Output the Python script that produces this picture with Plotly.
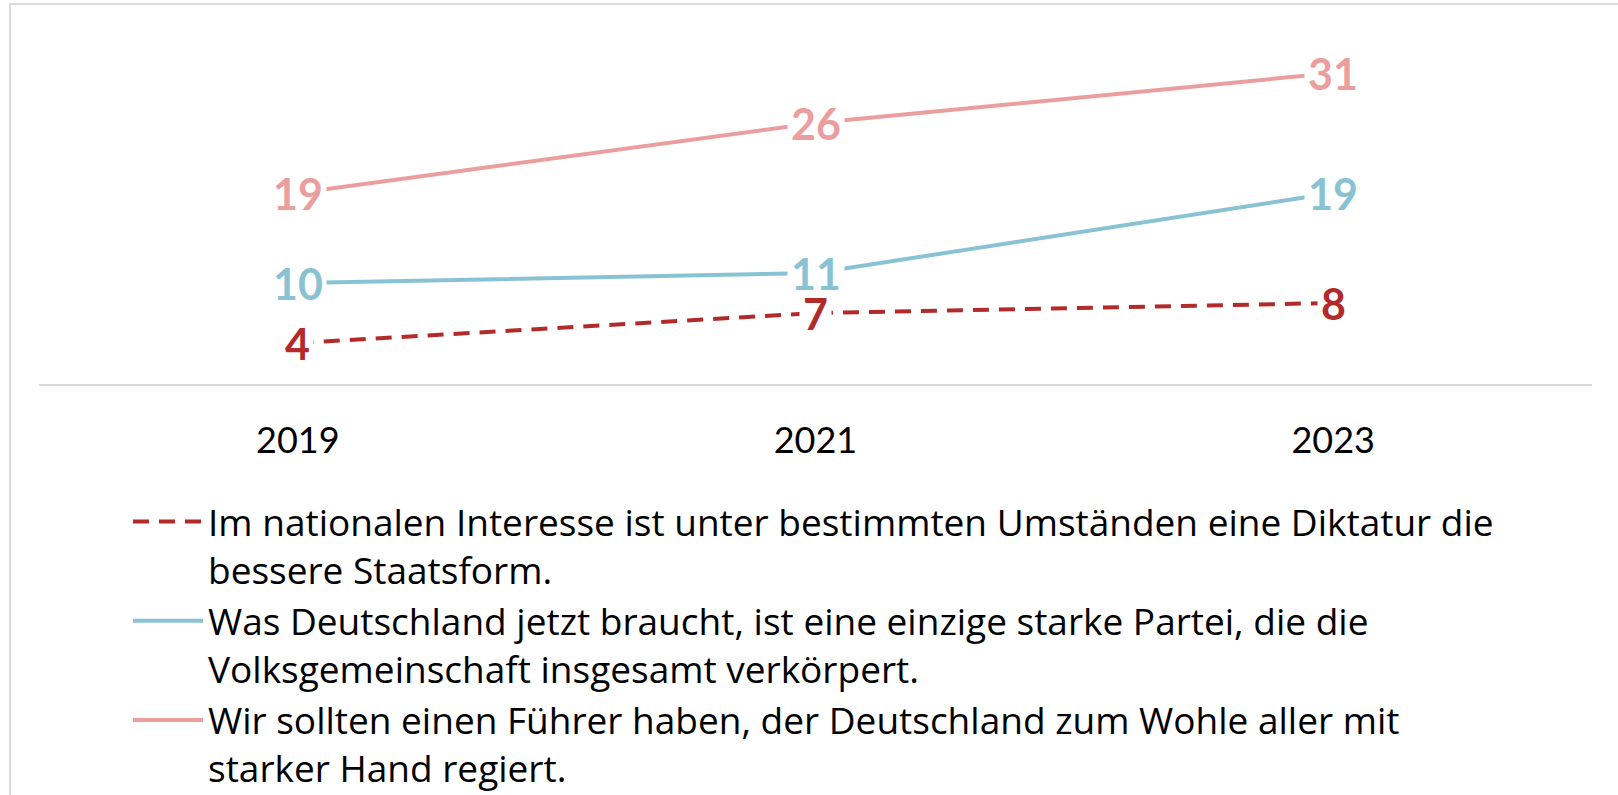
import plotly.graph_objects as go

years = ["2019", "2021", "2023"]
diktatur = [4, 7, 8]
partei = [10, 11, 19]
fuehrer = [19, 26, 31]

names = [
    "Im nationalen Interesse ist unter bestimmten Umständen eine Diktatur die<br>bessere Staatsform.",
    "Was Deutschland jetzt braucht, ist eine einzige starke Partei, die die<br>Volksgemeinschaft insgesamt verkörpert.",
    "Wir sollten einen Führer haben, der Deutschland zum Wohle aller mit<br>starker Hand regiert.",
]
series = [diktatur, partei, fuehrer]
colors = ["#B22A2A", "#89C2D2", "#EA9E9E"]
dashes = ["16px,10px", "solid", "solid"]

W, H = 1618, 795
ML, MR, MT, MB = 39, 26, 30, 411

fig = go.Figure()
for vals, name, col, dash in zip(series, names, colors, dashes):
    fig.add_trace(go.Scatter(
        x=years, y=vals, name=name, mode="lines",
        line=dict(color=col, width=4, dash=dash),
        hoverinfo="skip",
    ))

annotations = []
for vals, col in zip(series, colors):
    for i, v in enumerate(vals):
        annotations.append(dict(
            x=i, y=v, xref="x", yref="y", text=str(v), showarrow=False,
            font=dict(family="Lato", size=43, color=col, weight="bold"),
            bgcolor="white", borderpad=3, height=33,
            xanchor="center", yanchor="middle",
        ))

pw = W - ML - MR
ph = H - MT - MB


def px_to_paper_x(px):
    return (px - ML) / pw


def px_to_paper_y(py):
    return (H - MB - py) / ph


fig.update_layout(
    width=W, height=H,
    margin=dict(l=ML, r=MR, t=MT, b=MB, autoexpand=False),
    paper_bgcolor="white", plot_bgcolor="white",
    font=dict(family="Lato", color="black"),
    showlegend=True,
    legend=dict(
        x=px_to_paper_x(128), y=px_to_paper_y(491),
        xanchor="left", yanchor="top",
        font=dict(family="Open Sans", size=37, color="black"),
        valign="top", itemwidth=70, traceorder="normal",
        bgcolor="rgba(0,0,0,0)",
    ),
    xaxis=dict(
        type="category", range=[-0.5, 2.5],
        showline=True, linecolor="#D9D9D9", linewidth=2,
        showgrid=False, zeroline=False, ticks="",
        tickfont=dict(size=36, color="black"),
        ticklabelstandoff=24,
    ),
    yaxis=dict(
        range=[-0.1, 35.3], visible=False, showgrid=False, zeroline=False,
    ),
    annotations=annotations,
    shapes=[dict(
        type="rect", xref="paper", yref="paper",
        x0=px_to_paper_x(10), x1=px_to_paper_x(1630),
        y0=px_to_paper_y(810), y1=px_to_paper_y(4),
        line=dict(color="#D9D9D9", width=2), fillcolor="rgba(0,0,0,0)",
        layer="below",
    )],
)

fig.write_html(
    "out.html",
    config={"displayModeBar": False},
    post_script="document.body.style.margin='0';document.body.style.overflow='hidden';",
)
